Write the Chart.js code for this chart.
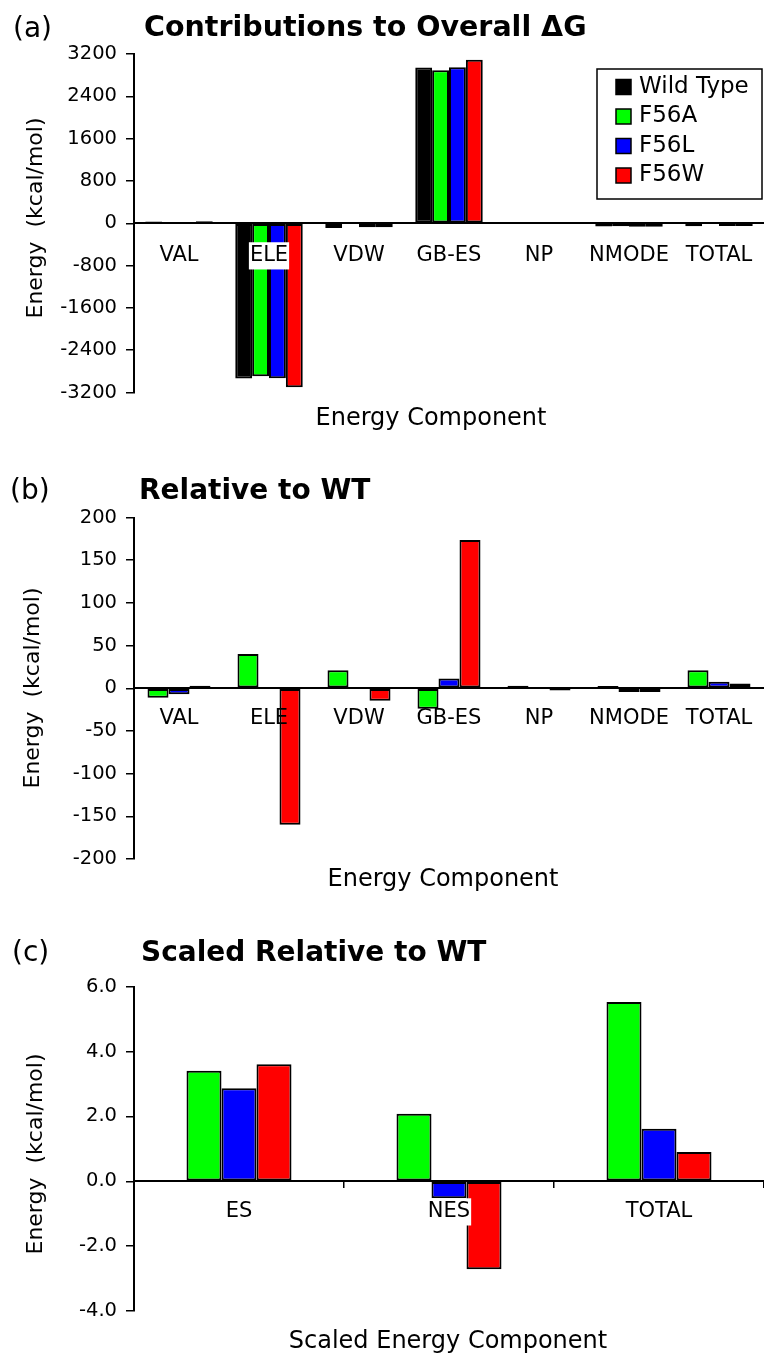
<!DOCTYPE html>
<html>
<head>
<meta charset="utf-8">
<script src="https://cdn.jsdelivr.net/npm/chart.js@4"></script>
<style>
  body { margin: 0; background: #fff; }
  #page { position: relative; width: 764px; height: 1355px; overflow: hidden; background: #fff;
          font-family: 'DejaVu Sans', sans-serif; color: #000; }
  #page canvas { position: absolute; left: 0; }
  .txt { position: absolute; white-space: pre; line-height: 1; }
  .mid { transform: translate(-50%, -50%); }
  .left { transform: translateY(-50%); }
  .rot { transform: translate(-50%, -50%) rotate(-90deg); }
  .bold { font-weight: bold; }
</style>
</head>
<body>
<div id="page">
  <canvas id="chartA" width="764" height="440" style="top:0px"></canvas>
  <canvas id="chartB" width="764" height="450" style="top:440px"></canvas>
  <canvas id="chartC" width="764" height="465" style="top:890px"></canvas>

  <div class="txt left" style="left:13px; top:28px; font-size:28px">(a)</div>
  <div class="txt left bold" style="left:144px; top:27px; font-size:28.5px">Contributions to Overall ΔG</div>
  <div class="txt rot" style="left:35px; top:218px; font-size:22px">Energy  (kcal/mol)</div>
  <div class="txt mid" style="left:431px; top:417px; font-size:24px">Energy Component</div>

  <div class="txt left" style="left:10px; top:490px; font-size:28px">(b)</div>
  <div class="txt left bold" style="left:139px; top:490px; font-size:28px">Relative to WT</div>
  <div class="txt rot" style="left:32px; top:688px; font-size:22px">Energy  (kcal/mol)</div>
  <div class="txt mid" style="left:443px; top:878px; font-size:24px">Energy Component</div>

  <div class="txt left" style="left:12px; top:952px; font-size:28px">(c)</div>
  <div class="txt left bold" style="left:141px; top:952px; font-size:28px">Scaled Relative to WT</div>
  <div class="txt rot" style="left:35px; top:1154px; font-size:22px">Energy  (kcal/mol)</div>
  <div class="txt mid" style="left:448px; top:1340px; font-size:24px">Scaled Energy Component</div>
</div>

<script>
// categories and series
const categories = ['VAL', 'ELE', 'VDW', 'GB-ES', 'NP', 'NMODE', 'TOTAL'];
const seriesNames = ['Wild Type', 'F56A', 'F56L', 'F56W'];
const seriesColors = ['#000000', '#00ff00', '#0000ff', '#ff0000'];

// (a) contributions to overall dG (kcal/mol)
const wildType = [35, -2935, -90, 2945, -4, -60, -55];
const f56a = [4, -2892, -8, 2895, -2, -58, -8];
const f56l = [6, -2930, -75, 2950, -3, -64, -50];
const f56w = [36, -3100, -76, 3090, -5, -64, -52];
const ticksA = [-3200, -2400, -1600, -800, 0, 800, 1600, 2400, 3200];

// (b) relative to WT
const relF56A = [-11, 40, 21, -24, 3, 2.5, 21];
const relF56L = [-7, 0.5, 0, 11.5, 0, -4.5, 7.5];
const relF56W = [3, -160, -14.5, 173.5, -2.5, -4.5, 5.5];
const ticksB = [-200, -150, -100, -50, 0, 50, 100, 150, 200];

// (c) scaled relative to WT
const scaledCategories = ['ES', 'NES', 'TOTAL'];
const scaledF56A = [3.41, 2.08, 5.53];
const scaledF56L = [2.87, -0.52, 1.62];
const scaledF56W = [3.61, -2.71, 0.9];
const ticksC = [-4, -2, 0, 2, 4, 6];

Chart.defaults.font.family = "'DejaVu Sans', sans-serif";
Chart.defaults.color = '#000';

// legend drawn as a framed box inside the plot
const boxLegend = {
    id: 'boxLegend',
    afterDraw(chart, args, opts) {
        if (!opts.display) return;
        const ctx = chart.ctx;
        ctx.save();
        ctx.fillStyle = '#fff';
        ctx.fillRect(opts.x, opts.y, opts.width, opts.height);
        ctx.strokeStyle = '#000';
        ctx.lineWidth = 1.5;
        ctx.strokeRect(opts.x, opts.y, opts.width, opts.height);
        ctx.font = opts.fontSize + "px 'DejaVu Sans'";
        ctx.textBaseline = 'middle';
        chart.data.datasets.forEach((ds, i) => {
            const cy = opts.firstRow + i * opts.rowGap;
            const bx = opts.x + opts.boxLeft;
            ctx.fillStyle = ds.backgroundColor;
            ctx.fillRect(bx, cy - opts.boxSize / 2, opts.boxSize, opts.boxSize);
            ctx.strokeRect(bx, cy - opts.boxSize / 2, opts.boxSize, opts.boxSize);
            ctx.fillStyle = '#000';
            ctx.fillText(ds.label, opts.x + opts.textLeft, cy);
        });
        ctx.restore();
    }
};

function makeDatasets(names, colors, values) {
    return values.map((data, i) => ({
        label: names[i],
        data: data,
        backgroundColor: colors[i],
        borderColor: '#000',
        borderWidth: 2,
        borderSkipped: false
    }));
}

function makeChart(id, labels, datasets, tickValues, o) {
    return new Chart(document.getElementById(id), {
        type: 'bar',
        data: { labels: labels, datasets: datasets },
        plugins: [boxLegend],
        options: {
            responsive: false,
            animation: false,
            layout: { padding: { top: o.top, bottom: o.bottom, left: 0, right: 0 } },
            datasets: { bar: { categoryPercentage: o.groupWidth, barPercentage: 1 } },
            plugins: {
                legend: { display: false },
                tooltip: { enabled: false },
                boxLegend: o.legend || { display: false }
            },
            scales: {
                x: {
                    position: { y: 0 },
                    afterFit: s => { s.paddingLeft = 0; s.paddingRight = 0; },
                    border: { color: '#000', width: 2, z: 1 },
                    grid: {
                        display: o.xTicks, drawOnChartArea: false, drawTicks: o.xTicks,
                        tickLength: 6, color: '#000', lineWidth: 1.5
                    },
                    ticks: {
                        z: 1, font: { size: 21 }, color: '#000', padding: o.labelPad,
                        maxRotation: 0, autoSkip: false,
                        showLabelBackdrop: o.backdrop, backdropColor: '#fff', backdropPadding: 1
                    }
                },
                y: {
                    min: tickValues[0],
                    max: tickValues[tickValues.length - 1],
                    afterBuildTicks: s => { s.ticks = tickValues.map(v => ({ value: v })); },
                    afterFit: s => { s.width = 134; },
                    border: { color: '#000', width: 2 },
                    grid: { drawOnChartArea: false, tickLength: 8, color: '#000', lineWidth: 1.5 },
                    ticks: { font: { size: 19.5 }, color: '#000', padding: 9, callback: o.fmt }
                }
            }
        }
    });
}

makeChart('chartA', categories,
    makeDatasets(seriesNames, seriesColors, [wildType, f56a, f56l, f56w]), ticksA, {
        top: 54, bottom: 47.5, groupWidth: 0.75, xTicks: false, labelPad: 20, backdrop: true,
        fmt: v => String(v),
        legend: {
            display: true, x: 597, y: 69, width: 165, height: 130,
            firstRow: 87, rowGap: 29.5, boxLeft: 19, boxSize: 15, textLeft: 42, fontSize: 23
        }
    });

makeChart('chartB', categories,
    makeDatasets(seriesNames.slice(1), seriesColors.slice(1), [relF56A, relF56L, relF56W]), ticksB, {
        top: 77.5, bottom: 31, groupWidth: 0.7, xTicks: false, labelPad: 18, backdrop: false,
        fmt: v => String(v)
    });

makeChart('chartC', scaledCategories,
    makeDatasets(seriesNames.slice(1), seriesColors.slice(1), [scaledF56A, scaledF56L, scaledF56W]), ticksC, {
        top: 96.7, bottom: 44, groupWidth: 0.5, xTicks: true, labelPad: 12, backdrop: true,
        fmt: v => v.toFixed(1)
    });
</script>
</body>
</html>
